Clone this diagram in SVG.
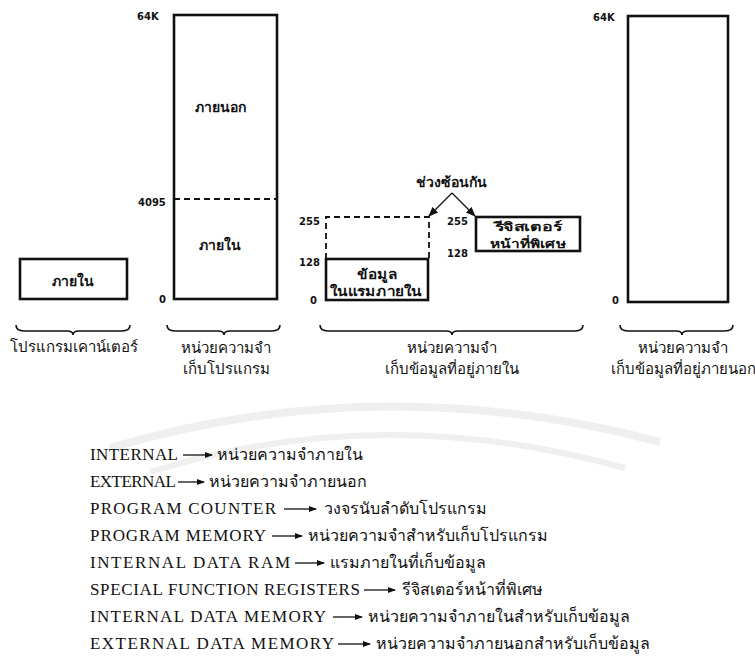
<svg xmlns="http://www.w3.org/2000/svg" width="755" height="667" viewBox="0 0 755 667">
  <defs>
    <style>
      .box { fill: none; stroke: #111; stroke-width: 2.6; }
      .dash { fill: none; stroke: #111; stroke-width: 1.8; stroke-dasharray: 6 4; }
      .brace { fill: none; stroke: #111; stroke-width: 1.6; }
      .num { font-family: "DejaVu Sans", "Liberation Sans", sans-serif; font-size: 10px; font-weight: bold; fill: #111; }
      .th { font-family: "Noto Sans", "DejaVu Sans", sans-serif; font-size: 14px; font-weight: bold; fill: #111; text-anchor: middle; }
      .th2 { font-family: "Noto Sans", "DejaVu Sans", sans-serif; font-size: 13px; font-weight: bold; fill: #111; text-anchor: middle; }
      .th3 { font-family: "Noto Sans", "DejaVu Sans", sans-serif; font-size: 12px; font-weight: bold; fill: #111; text-anchor: middle; }
      .cap { font-family: "Noto Sans", "DejaVu Sans", sans-serif; font-size: 15px; fill: #111; text-anchor: middle; }
      .en { font-family: "Liberation Serif", "Times New Roman", serif; font-size: 17px; fill: #111; }
      .thl { font-family: "Noto Sans", "DejaVu Sans", sans-serif; font-size: 16px; fill: #111; }
      .arr { stroke: #111; stroke-width: 1.3; fill: none; }
      .wm { fill: none; stroke: #efefef; }
    </style>
    <marker id="head" markerWidth="10" markerHeight="8" refX="9" refY="4" orient="auto" markerUnits="userSpaceOnUse">
      <path d="M0,0 L10,4 L0,8 Z" fill="#111"/>
    </marker>
    <marker id="small" markerWidth="8" markerHeight="6" refX="7" refY="3" orient="auto" markerUnits="userSpaceOnUse">
      <path d="M0,0 L8,3 L0,6 Z" fill="#111"/>
    </marker>
  </defs>

  <rect width="755" height="667" fill="#fff"/>

  <!-- faint background emblem -->
  <g id="watermark">
    <path class="wm" stroke-width="8" d="M110,448 Q380,368 660,442"/>
    <path class="wm" stroke-width="6" d="M150,472 Q380,400 625,468"/>
  </g>

  <!-- program counter -->
  <g id="program-counter">
    <rect class="box" x="20" y="259" width="107" height="40"/>
    <text class="th" x="73" y="286">ภายใน</text>
  </g>

  <!-- program memory -->
  <g id="program-memory">
    <rect class="box" x="174" y="15" width="103" height="284"/>
    <line class="dash" x1="174" y1="199" x2="277" y2="199"/>
    <text class="num" x="137" y="20">64K</text>
    <text class="num" x="138" y="206">4095</text>
    <text class="num" x="159" y="303">0</text>
    <text class="th" x="220" y="112">ภายนอก</text>
    <text class="th" x="220" y="250">ภายใน</text>
  </g>

  <!-- internal data RAM -->
  <g id="internal-ram">
    <path class="dash" d="M326,259 L326,217 L429,217 L429,259"/>
    <rect class="box" x="326" y="259" width="102" height="41"/>
    <text class="num" x="299" y="225">255</text>
    <text class="num" x="299" y="266">128</text>
    <text class="num" x="310" y="304">0</text>
    <text class="th2" x="377" y="279" textLength="40" lengthAdjust="spacingAndGlyphs">ข้อมูล</text>
    <text class="th2" x="376" y="296" textLength="92" lengthAdjust="spacingAndGlyphs">ในแรมภายใน</text>
  </g>

  <!-- special function registers -->
  <g id="sfr">
    <rect class="box" x="476" y="217" width="104" height="34"/>
    <text class="num" x="447" y="225">255</text>
    <text class="num" x="447" y="257">128</text>
    <text class="th3" x="528" y="231" textLength="67" lengthAdjust="spacingAndGlyphs">รีจิสเตอร์</text>
    <text class="th3" x="528" y="248" textLength="76" lengthAdjust="spacingAndGlyphs">หน้าที่พิเศษ</text>
  </g>

  <!-- overlap label -->
  <g id="overlap">
    <text class="th" x="451" y="187">ช่วงซ้อนกัน</text>
  </g>

  <!-- external data memory -->
  <g id="external-memory">
    <rect class="box" x="628" y="16" width="100" height="286"/>
    <text class="num" x="593" y="21">64K</text>
    <text class="num" x="612" y="304">0</text>
  </g>

  <!-- connectors -->
  <g id="connectors">
    <path class="arr" d="M452,193 L429,216" marker-end="url(#head)"/>
    <path class="arr" d="M452,193 L475,216" marker-end="url(#head)"/>
  </g>

  <!-- braces and captions -->
  <g id="captions">
    <path class="brace" d="M16,325 Q16,331 24,331 L67,331 Q73,331 73,335 Q73,331 79,331 L122,331 Q130,331 130,325"/>
    <path class="brace" d="M167,325 Q167,331 175,331 L218,331 Q224,331 224,335 Q224,331 230,331 L272,331 Q280,331 280,325"/>
    <path class="brace" d="M320,325 Q320,331 328,331 L446,331 Q452,331 452,335 Q452,331 458,331 L575,331 Q583,331 583,325"/>
    <path class="brace" d="M620,325 Q620,331 628,331 L676,331 Q682,331 682,335 Q682,331 688,331 L725,331 Q733,331 733,325"/>
    <text class="cap" x="74" y="352">โปรแกรมเคาน์เตอร์</text>
    <text class="cap" x="226" y="353">หน่วยความจำ</text>
    <text class="cap" x="226" y="374">เก็บโปรแกรม</text>
    <text class="cap" x="452" y="353">หน่วยความจำ</text>
    <text class="cap" x="452" y="374">เก็บข้อมูลที่อยู่ภายใน</text>
    <text class="cap" x="683" y="353">หน่วยความจำ</text>
    <text class="cap" x="683" y="374">เก็บข้อมูลที่อยู่ภายนอก</text>
  </g>

  <!-- glossary -->
  <g id="legend">
    <text class="en" x="90" y="460" textLength="88" lengthAdjust="spacing">INTERNAL</text>
    <line class="arr" x1="183" y1="455" x2="212" y2="455" marker-end="url(#small)"/>
    <text class="thl" x="217" y="460">หน่วยความจำภายใน</text>

    <text class="en" x="90" y="487" textLength="86" lengthAdjust="spacing">EXTERNAL</text>
    <line class="arr" x1="178" y1="482" x2="204" y2="482" marker-end="url(#small)"/>
    <text class="thl" x="209" y="487">หน่วยความจำภายนอก</text>

    <text class="en" x="90" y="514" textLength="186" lengthAdjust="spacing">PROGRAM COUNTER</text>
    <line class="arr" x1="284" y1="509" x2="316" y2="509" marker-end="url(#small)"/>
    <text class="thl" x="324" y="514">วงจรนับลำดับโปรแกรม</text>

    <text class="en" x="90" y="541" textLength="176" lengthAdjust="spacing">PROGRAM MEMORY</text>
    <line class="arr" x1="272" y1="536" x2="302" y2="536" marker-end="url(#small)"/>
    <text class="thl" x="308" y="541">หน่วยความจำสำหรับเก็บโปรแกรม</text>

    <text class="en" x="90" y="568" textLength="200" lengthAdjust="spacing">INTERNAL DATA RAM</text>
    <line class="arr" x1="295" y1="563" x2="324" y2="563" marker-end="url(#small)"/>
    <text class="thl" x="330" y="568">แรมภายในที่เก็บข้อมูล</text>

    <text class="en" x="90" y="595" textLength="270" lengthAdjust="spacing">SPECIAL FUNCTION REGISTERS</text>
    <line class="arr" x1="364" y1="590" x2="395" y2="590" marker-end="url(#small)"/>
    <text class="thl" x="402" y="595">รีจิสเตอร์หน้าที่พิเศษ</text>

    <text class="en" x="90" y="622" textLength="236" lengthAdjust="spacing">INTERNAL DATA MEMORY</text>
    <line class="arr" x1="333" y1="617" x2="362" y2="617" marker-end="url(#small)"/>
    <text class="thl" x="368" y="622">หน่วยความจำภายในสำหรับเก็บข้อมูล</text>

    <text class="en" x="90" y="649" textLength="244" lengthAdjust="spacing">EXTERNAL DATA MEMORY</text>
    <line class="arr" x1="338" y1="644" x2="370" y2="644" marker-end="url(#small)"/>
    <text class="thl" x="376" y="649">หน่วยความจำภายนอกสำหรับเก็บข้อมูล</text>
  </g>
</svg>
